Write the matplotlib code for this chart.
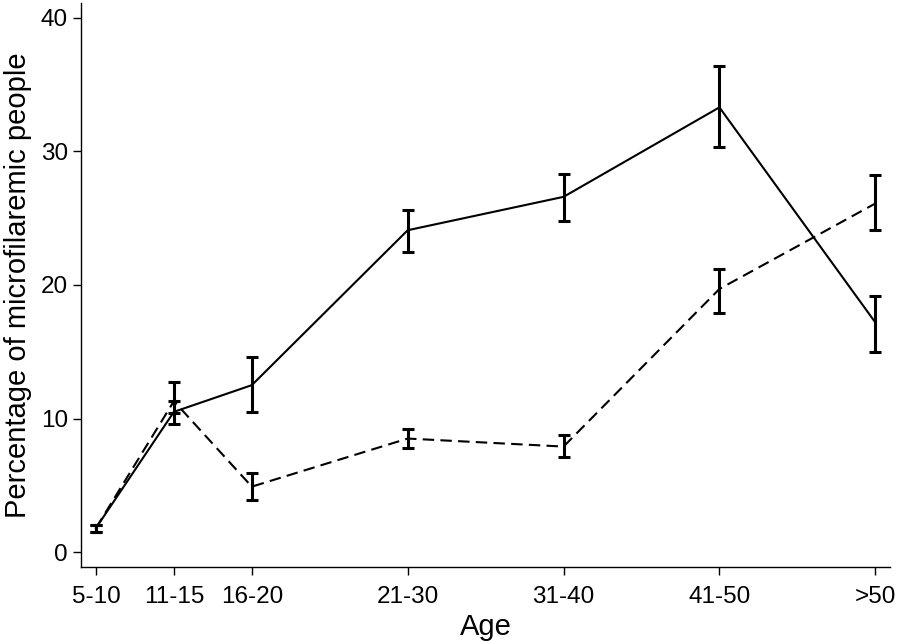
import numpy as np
import matplotlib
matplotlib.use('Agg')
import matplotlib.pyplot as plt

# Dane
grupy_wieku = ['5-10', '11-15', '16-20', '21-30', '31-40', '41-50', '>50']
pozycje_x   = [5, 10, 15, 25, 35, 45, 55]   # skala osi X (nierówne odstępy)

# seria ciągła
seria_a      = [1.8, 10.5, 12.5, 24.1, 26.6, 33.3, 17.2]
seria_a_dol  = [1.5,  9.6, 10.5, 22.5, 24.8, 30.3, 15.0]
seria_a_gora = [2.0, 11.3, 14.6, 25.6, 28.3, 36.4, 19.2]

# seria przerywana
seria_b      = [1.8, 11.3, 4.9, 8.5, 7.9, 19.7, 26.1]
seria_b_dol  = [1.5, 10.4, 3.9, 7.8, 7.1, 17.9, 24.1]
seria_b_gora = [2.0, 12.7, 5.9, 9.2, 8.8, 21.2, 28.2]

plt.rcParams['font.family'] = ['Liberation Sans', 'DejaVu Sans']

fig = plt.figure(figsize=(8.98, 6.41), dpi=100)
ax = fig.add_axes([0.0902, 0.1154, 0.9008, 0.8796])

for y, dol, gora, styl in [(seria_a, seria_a_dol, seria_a_gora, '-'),
                           (seria_b, seria_b_dol, seria_b_gora, '--')]:
    y = np.array(y)
    blad = [y - np.array(dol), np.array(gora) - y]
    linia, = ax.plot(pozycje_x, y, color='black', linewidth=1.5, linestyle=styl)
    if styl == '--':
        linia.set_dashes((5.5, 3))
    ax.errorbar(pozycje_x, y, yerr=blad, fmt='none', ecolor='black',
                elinewidth=2.2, capsize=4.3, capthick=2.2)

ax.set_xlim(4.04, 55.94)
ax.set_ylim(-1.12, 41.1)
ax.set_xticks(pozycje_x)
ax.set_xticklabels(grupy_wieku)
ax.set_yticks([0, 10, 20, 30, 40])
ax.tick_params(direction='out', length=6, width=1, labelsize=17.5)
ax.tick_params(axis='x', pad=8)
ax.tick_params(axis='y', pad=3.5)
ax.spines['top'].set_visible(False)
ax.spines['right'].set_visible(False)
ax.spines['left'].set_linewidth(1)
ax.spines['bottom'].set_linewidth(1)

ax.set_xlabel('Age', fontsize=21, labelpad=3)
ax.set_ylabel('Percentage of microfilaremic people', fontsize=21, labelpad=6)

fig.savefig('out.png', dpi=100)
plt.close(fig)
